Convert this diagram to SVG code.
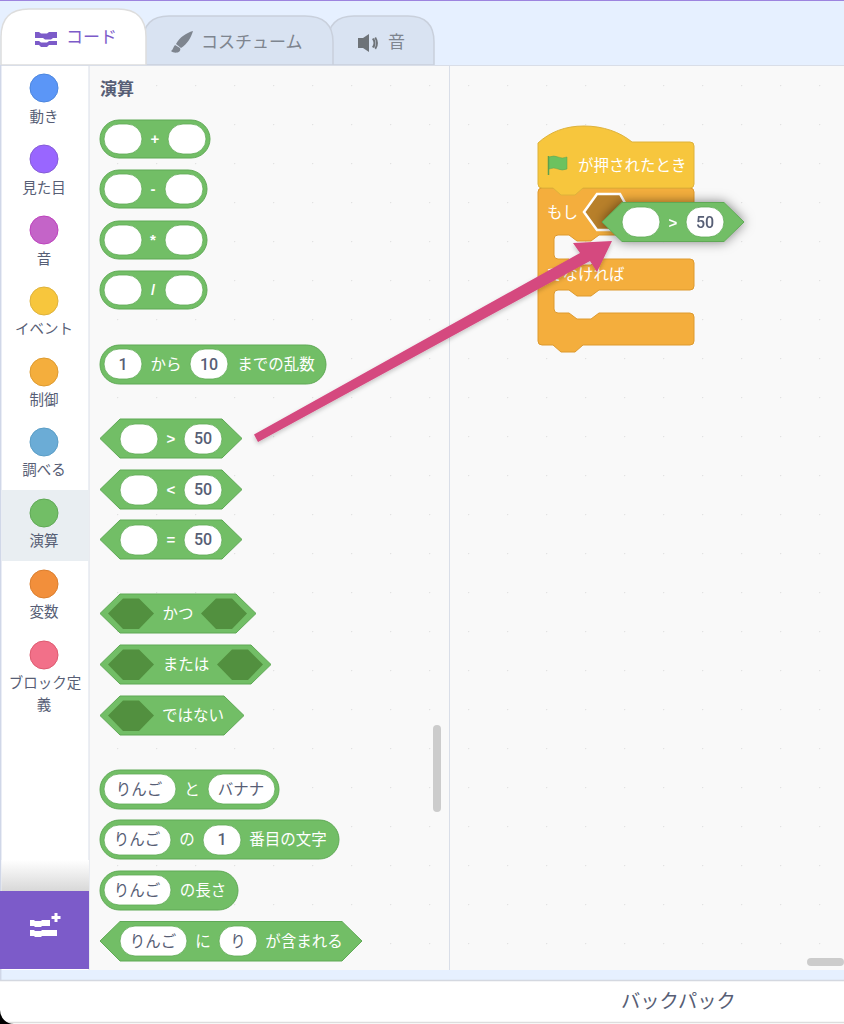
<svg xmlns="http://www.w3.org/2000/svg" width="844" height="1024" viewBox="0 0 844 1024">
<style>
text{font-family:"Noto Sans CJK JP","Noto Sans",sans-serif}
.b{fill:#72BE66;stroke:#5FA955;stroke-width:1}
.o{fill:#72BE66;stroke:#5FA955;stroke-width:1}
.i{fill:#fff;stroke:#5FA955;stroke-width:.8}
.d{fill:#52903F}
.w{fill:#fff;font-size:15.500px;text-anchor:middle}
.s{fill:#fff;font-size:15px;font-weight:700;text-anchor:middle;font-family:"Liberation Sans",sans-serif}
.v{fill:#575E75;font-size:15.500px;text-anchor:middle}
.n{fill:#575E75;font-size:16px;font-weight:500;text-anchor:middle;font-family:Roboto,"Liberation Sans",sans-serif}
.c{fill:#575E75;font-size:14.500px;text-anchor:middle}
.t{font-size:17px;fill:#7E858F}
.tab{stroke:#C9D0DC;stroke-width:1.5;fill:#D9E3F2}
.y{fill:#F4AE3D;stroke:#DE9A2E;stroke-width:1}
</style>
<defs>
<pattern id="dots" width="39" height="39" patternUnits="userSpaceOnUse" patternTransform="translate(0 7)"><circle cx="0.5" cy="0.5" r="0.8" fill="#E2E2E2"/></pattern>
<linearGradient id="fade" x1="0" y1="0" x2="0" y2="1"><stop offset="0" stop-color="#fff"/><stop offset="1" stop-color="#D8D8D8"/></linearGradient>
<filter id="shadow" x="-20%" y="-50%" width="140%" height="200%"><feDropShadow dx="0" dy="0" stdDeviation="6" flood-color="#000" flood-opacity=".5"/></filter>
<filter id="soft" x="-10%" y="-10%" width="120%" height="120%"><feDropShadow dx="0" dy="2" stdDeviation="2" flood-color="#000" flood-opacity=".22"/></filter>
</defs>

<g id="background">
<rect width="844" height="1024" fill="#E6F0FF"/>
<rect width="844" height="1" fill="#9D84DF"/>
</g>

<g id="tabs">
<path class="tab" d="M328,65V42Q328,16 354,16H408Q434,16 434,42V65Z"/>
<path class="tab" d="M143,65V42Q143,16 169,16H305Q333,16 333,42V65Z"/>
<path d="M1,65V37Q1,9 29,9H118Q146,9 146,37V65Z" fill="#fff" stroke="#DDD" stroke-width="1.5"/>
<path d="M35,32h4l2,1.500h6l2,-1.500h8v6h-4l-2,1.500h-6l-2,-1.500h-8zM35,41h4l2,1.500h6l2,-1.500h8v4h-8l-2,2h-6l-2,-2h-4z" fill="#7C5BC9"/>
<text x="66" y="43" font-size="17" fill="#7C5BC9">コード</text>
<path d="M193,31C186,33 180,37 176,44L181,48C187,44 191,38 193,31ZM175,45C173,47 173,50 171,51C174,54 182,53 180,48Z" fill="#7E858F"/>
<text class="t" x="201" y="48">コスチューム</text>
<path d="M358,38h5l6,-4v18l-6,-4h-5zM372,39q3,4 0,8l2,1q3,-5 0,-10zM376,37l-1.500,1q3,5 0,10l1.500,1.500q4,-6 0,-12.500z" fill="#6E7378"/>
<text class="t" x="388" y="48">音</text>
</g>

<g id="panels">
<rect x="1" y="65" width="88" height="905" fill="#fff"/>
<rect x="89" y="65" width="755" height="905" fill="#F9F9F9"/>
<rect x="89" y="65" width="755" height="905" fill="url(#dots)"/>
<path d="M0,65.500H844M89,65V970M449.500,65V970" stroke="#D9DEE8" stroke-width="1" fill="none"/>
<path d="M0.700,65V980" stroke="#D0D7E8" stroke-width="1.500"/>
<rect x="1.500" y="490" width="87.500" height="71" fill="#E9EEF2"/>
<rect x="433" y="725" width="8" height="87" rx="4" fill="#CCC"/>
<rect x="807" y="958" width="37" height="8" rx="4" fill="#CCC"/>
</g>

<g id="cat-motion"><circle cx="44" cy="88" r="14" fill="#5B96F7" stroke="#4C86DE"/><text class="c" x="44" y="122">動き</text></g>
<g id="cat-looks"><circle cx="44" cy="159" r="14" fill="#9966FF" stroke="#855CD6"/><text class="c" x="44" y="193">見た目</text></g>
<g id="cat-sound"><circle cx="44" cy="230" r="14" fill="#C464C8" stroke="#BD42BD"/><text class="c" x="44" y="264">音</text></g>
<g id="cat-event"><circle cx="44" cy="301" r="14" fill="#F7C63D" stroke="#DEB23B"/><text class="c" x="44" y="334">イベント</text></g>
<g id="cat-control"><circle cx="44" cy="372" r="14" fill="#F4AE3D" stroke="#DE9A2E"/><text class="c" x="44" y="405">制御</text></g>
<g id="cat-sensing"><circle cx="44" cy="442" r="14" fill="#6BACD6" stroke="#5A9DC6"/><text class="c" x="44" y="475">調べる</text></g>
<g id="cat-operators"><circle cx="44" cy="513" r="14" fill="#72BE66" stroke="#5FA955"/><text class="c" x="44" y="546">演算</text></g>
<g id="cat-variables"><circle cx="44" cy="584" r="14" fill="#F28F3B" stroke="#DB7E2E"/><text class="c" x="44" y="617">変数</text></g>
<g id="cat-myblocks"><circle cx="44" cy="655" r="14" fill="#F27089" stroke="#DE5A70"/><text class="c" x="45" y="688">ブロック定</text><text class="c" x="44" y="710">義</text></g>

<g id="extension">
<rect x="1.500" y="860" width="87.500" height="31" fill="url(#fade)"/>
<rect x="0" y="891" width="89" height="78" fill="#7C5BC9"/>
<path d="M30,920h4l1,1h6l1,-1h8v6h-8l-1,1h-6l-1,-1h-4zM30,930h4l1,1h6l1,-1h15v6h-15l-1,1h-6l-1,-1h-4z" fill="#fff"/>
<path d="M54.500,913h3v3h3v3h-3v3h-3v-3h-3v-3h3z" fill="#fff"/>
</g>

<g id="footer">
<path d="M0,1024V981H844V1024Z" fill="#fff"/>
<path d="M0,980.500H844" stroke="#D4D8E0" stroke-width="1.500"/>
<path d="M0,1022.500H844" stroke="#DDD" stroke-width="1.500"/>
<path d="M0,1010A14,14 0 0 0 14,1024H0Z" fill="#000"/>
<text x="621" y="1008" font-size="19.300" fill="#575E75">バックパック</text>
</g>

<g id="palette-title"><text x="100" y="95" font-size="17" font-weight="700" fill="#575E75">演算</text></g>

<g id="b-add"><rect class="o" x="100" y="120" width="110" height="38" rx="19"/><rect class="i" x="104" y="124" width="38" height="30" rx="15"/><text class="s" x="155" y="144">+</text><rect class="i" x="168" y="124" width="38" height="30" rx="15"/></g>
<g id="b-sub"><rect class="o" x="100" y="170" width="107" height="38" rx="19"/><rect class="i" x="104" y="174" width="38" height="30" rx="15"/><text class="s" x="153" y="194">-</text><rect class="i" x="165" y="174" width="38" height="30" rx="15"/></g>
<g id="b-mul"><rect class="o" x="100" y="221" width="107" height="38" rx="19"/><rect class="i" x="104" y="225" width="38" height="30" rx="15"/><text class="s" x="153" y="245">*</text><rect class="i" x="165" y="225" width="38" height="30" rx="15"/></g>
<g id="b-div"><rect class="o" x="100" y="271" width="107" height="38" rx="19"/><rect class="i" x="104" y="275" width="38" height="30" rx="15"/><text class="s" x="153" y="295">/</text><rect class="i" x="165" y="275" width="38" height="30" rx="15"/></g>

<g id="b-random"><rect class="o" x="100" y="345" width="226" height="39" rx="19.500"/><rect class="i" x="104" y="349" width="38" height="30" rx="15"/><text class="n" x="123" y="370">1</text><text class="w" x="166" y="370">から</text><rect class="i" x="190" y="349" width="38" height="30" rx="15"/><text class="n" x="209" y="370">10</text><text class="w" x="276" y="370">までの乱数</text></g>

<g id="b-gt"><path class="b" d="M100,438.500L120,419H222L242,438.500L222,458H120Z"/><rect class="i" x="120" y="424" width="38" height="30" rx="15"/><text class="s" x="171" y="444">&gt;</text><rect class="i" x="184" y="424" width="38" height="30" rx="15"/><text class="n" x="203" y="444">50</text></g>
<g id="b-lt"><path class="b" d="M100,489.500L120,470H222L242,489.500L222,509H120Z"/><rect class="i" x="120" y="475" width="38" height="30" rx="15"/><text class="s" x="171" y="495">&lt;</text><rect class="i" x="184" y="475" width="38" height="30" rx="15"/><text class="n" x="203" y="495">50</text></g>
<g id="b-eq"><path class="b" d="M100,539.500L120,520H222L242,539.500L222,559H120Z"/><rect class="i" x="120" y="525" width="38" height="30" rx="15"/><text class="s" x="171" y="545">=</text><rect class="i" x="184" y="525" width="38" height="30" rx="15"/><text class="n" x="203" y="545">50</text></g>

<g id="b-and"><path class="b" d="M100,613.500L120,594H236L256,613.500L236,633H120Z"/><path class="d" d="M108,613.500L123,598.500H139L154,613.500L139,629H123Z"/><text class="w" x="178" y="619">かつ</text><path class="d" d="M201,613.500L216,598.500H232L247,613.500L232,629H216Z"/></g>
<g id="b-or"><path class="b" d="M100,664.500L120,645H251L271,664.500L251,684H120Z"/><path class="d" d="M108,664.500L123,649.500H139L154,664.500L139,680H123Z"/><text class="w" x="186" y="670">または</text><path class="d" d="M217,664.500L232,649.500H248L263,664.500L248,680H232Z"/></g>
<g id="b-not"><path class="b" d="M100,715.500L120,696H224L244,715.500L224,735H120Z"/><path class="d" d="M108,715.500L123,700.500H139L154,715.500L139,731H123Z"/><text class="w" x="193" y="721">ではない</text></g>

<g id="b-join"><rect class="o" x="100" y="770" width="179" height="39" rx="19.500"/><rect class="i" x="104" y="774" width="72" height="30" rx="15"/><text class="v" x="139" y="795">りんご</text><text class="w" x="192" y="795">と</text><rect class="i" x="208" y="774" width="67" height="30" rx="15"/><text class="v" x="241" y="795">バナナ</text></g>
<g id="b-letter"><rect class="o" x="100" y="820" width="239" height="39" rx="19.500"/><rect class="i" x="104" y="825" width="67" height="30" rx="15"/><text class="v" x="137" y="845">りんご</text><text class="w" x="187" y="845">の</text><rect class="i" x="203" y="825" width="38" height="30" rx="15"/><text class="n" x="222" y="845">1</text><text class="w" x="288" y="845">番目の文字</text></g>
<g id="b-length"><rect class="o" x="100" y="871" width="138" height="39" rx="19.500"/><rect class="i" x="104" y="875" width="67" height="30" rx="15"/><text class="v" x="137" y="896">りんご</text><text class="w" x="203" y="896">の長さ</text></g>
<g id="b-contains"><path class="b" d="M100,941L120,921.500H342L362,941L342,961H120Z"/><rect class="i" x="120" y="926" width="67" height="30" rx="15"/><text class="v" x="153" y="947">りんご</text><text class="w" x="203" y="947">に</text><rect class="i" x="219" y="926" width="38" height="30" rx="15"/><text class="v" x="238" y="947">り</text><text class="w" x="304" y="947">が含まれる</text></g>

<g id="script-if-else">
<path class="y" d="M542,188H690a4,4 0 0 1 4,4V231a4,4 0 0 1 -4,4H599l-8,6H577l-8,-6H558a4,4 0 0 0 -4,4V255a4,4 0 0 0 4,4H569l8,6H591l8,-6H690a4,4 0 0 1 4,4V286a4,4 0 0 1 -4,4H599l-8,6H577l-8,-6H558a4,4 0 0 0 -4,4V309a4,4 0 0 0 4,4H569l8,6H591l8,-6H690a4,4 0 0 1 4,4V341a4,4 0 0 1 -4,4H583l-8,7H561l-8,-7H542a4,4 0 0 1 -4,-4V192a4,4 0 0 1 4,-4Z"/>
<text x="547" y="218" font-size="15.500" fill="#fff">もし</text>
<path d="M584,212L597,194H620L630,212L617,230H597Z" fill="#B8802A" stroke="#fff" stroke-width="2.500"/>
<text x="547" y="280" font-size="15.500" fill="#fff">でなければ</text>
</g>
<g id="script-hat">
<path d="M538,143C550,132 565,126 584,126C603,126 620,132 632,142H690a4,4 0 0 1 4,4V184a4,4 0 0 1 -4,4H583l-8,7H561l-8,-7H542a4,4 0 0 1 -4,-4Z" fill="#F7C63D" stroke="#DEB23B"/>
<path d="M548.500,156V175" stroke="#5CA04E" stroke-width="1.500"/>
<path d="M549,157Q554,155 558,157T567,157V169Q562,171 558,169T549,169Z" fill="#6CC25F" stroke="#5CA04E" stroke-width=".5"/>
<text x="578" y="171" font-size="15.500" fill="#fff">が押されたとき</text>
</g>
<g id="dragged-gt" filter="url(#shadow)"><path class="b" d="M602,222L622,202.500H724L744,222L724,241.500H622Z"/><rect class="i" x="622" y="207" width="38" height="30" rx="15" stroke="none"/><text class="s" x="673" y="228">&gt;</text><rect class="i" x="686" y="207" width="38" height="30" rx="15" stroke="none"/><text class="n" x="705" y="228">50</text></g>

<g id="connectors">
<path filter="url(#soft)" d="M254,434.500L580,253L573,243L612,241L597,272L590,261L258,442Z" fill="#D5487F"/>
</g>
</svg>
